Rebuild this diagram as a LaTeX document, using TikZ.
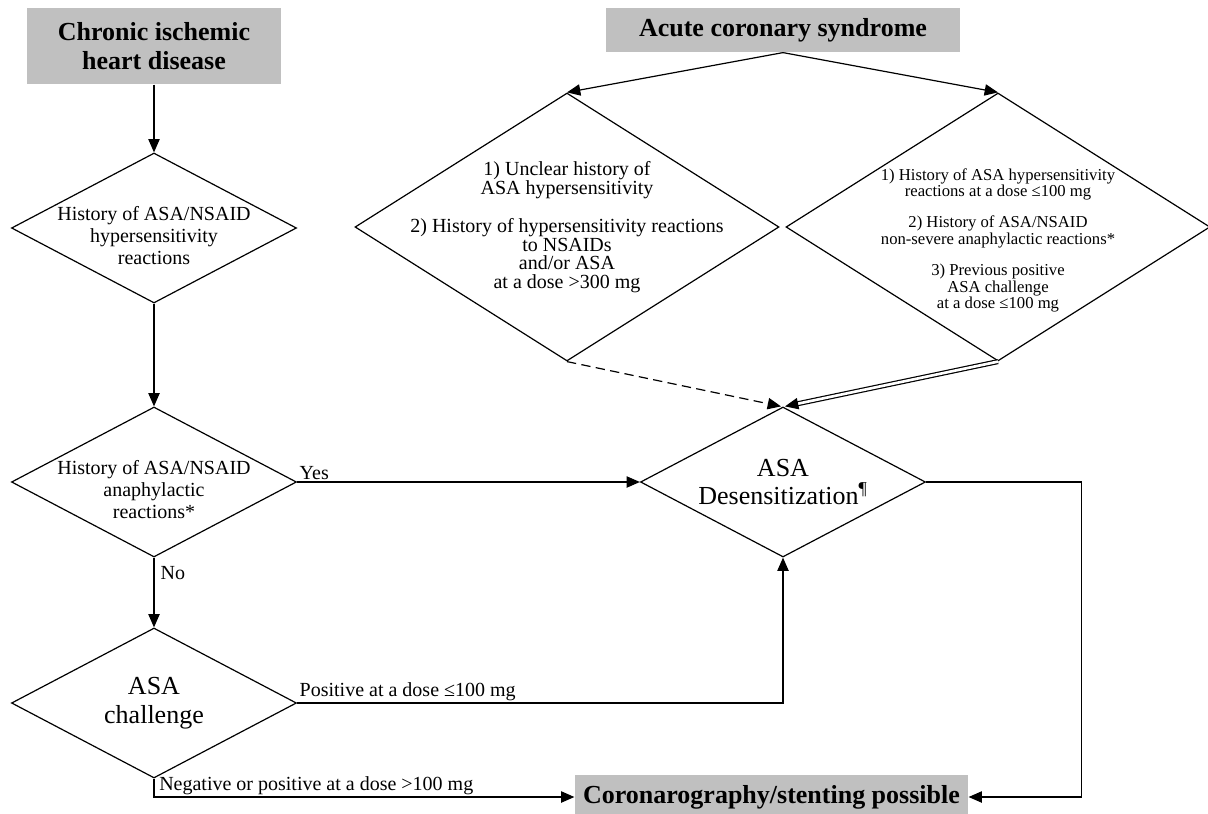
\documentclass[tikz,border=0pt]{standalone}
\usepackage{fontspec}
\setmainfont{Liberation Serif}
\usetikzlibrary{shapes.geometric}
\usetikzlibrary{arrows.meta}
\definecolor{boxgray}{HTML}{C0C0C0}

\begin{document}
\begin{tikzpicture}[x=0.75pt,y=-0.75pt,line width=0.9pt,
  >={Triangle[length=10pt,width=8.5pt]},
  titlebox/.style={fill=boxgray,inner sep=0pt,align=center,font=\fontsize{19.5}{22}\selectfont\bfseries},
  decision/.style={draw,diamond,inner sep=0pt,minimum width=213.75pt,minimum height=112.5pt},
  bigdecision/.style={draw,diamond,inner sep=0pt,minimum width=318pt,minimum height=201pt},
  dtext/.style={align=center,inner sep=0pt,font=\fontsize{15}{16.5}\selectfont},
  asatext/.style={align=center,inner sep=0pt,font=\fontsize{19.5}{21.5}\selectfont},
  acstext/.style={align=center,inner sep=0pt,font=\fontsize{15}{13.9}\selectfont},
  acstextsmall/.style={align=center,inner sep=0pt,font=\fontsize{12.5}{12.4}\selectfont},
  lbl/.style={inner sep=1.5pt,font=\fontsize{15}{16}\selectfont}]
  \useasboundingbox (0,0) rectangle (1208,814);

  \node (chronic) at (154,46)[titlebox,minimum width=190.5pt,minimum height=57pt]{Chronic ischemic\\heart disease};
  \node (acute) at (783,30)[titlebox,minimum width=265.5pt,minimum height=33pt]{Acute coronary syndrome};
  \node (stent) at (771.5,797)[titlebox,minimum width=294.75pt,minimum height=33pt]{Coronarography/stenting possible};

  \node (hist) at (154,228)[decision,label={[dtext,yshift=-6pt]center:{History of ASA/NSAID\\hypersensitivity\\reactions}}]{};
  \node (anaph) at (154,482)[decision,label={[dtext,yshift=-6pt]center:{History of ASA/NSAID\\anaphylactic\\reactions*}}]{};
  \node (chall) at (154,703)[decision,label={[asatext]center:{ASA\\challenge}}]{};
  \node (desens) at (783,482)[decision,label={[asatext]center:{ASA\\Desensitization\textsuperscript{\P}}}]{};

  \node (unclear) at (567,227)[bigdecision,label={[acstext]center:{1) Unclear history of\\ASA hypersensitivity\\[15pt]2) History of hypersensitivity reactions\\to NSAIDs\\and/or ASA\\at a dose >300 mg}}]{};
  \node (known) at (998,227)[bigdecision,label={[acstextsmall,yshift=-10pt]center:{1) History of ASA hypersensitivity\\reactions at a dose ≤100 mg\\[11pt]2) History of ASA/NSAID\\non-severe anaphylactic reactions*\\[11pt]3) Previous positive\\ASA challenge\\at a dose ≤100 mg}}]{};

  \draw[->](chronic)--(hist);
  \draw[->](hist)--(anaph);
  \draw[->](anaph.east)--node[lbl,pos=0,anchor=south west]{Yes}(desens.west);
  \draw[->](anaph.south)--node[lbl,pos=0,anchor=north west,xshift=3pt,yshift=-5pt]{No}(chall.north);
  \draw[->](chall.east)-|node[lbl,pos=0,anchor=south west]{Positive at a dose ≤100 mg}(desens.south);
  \draw[->](chall.south)|-node[lbl,pos=0.5,anchor=south west,xshift=2pt]{Negative or positive at a dose >100 mg}(stent.west);
  \draw[->](desens.east)--++(155,0)|-(stent.east);

  \draw[->](acute.south)--(unclear.north);
  \draw[->](acute.south)--(known.north);
  \draw[->,dash pattern=on 7pt off 4pt](unclear.south)--([xshift=-1.5pt]desens.north);
  \draw[->,double,double distance=2pt](known.south)--([xshift=1.5pt]desens.north);
\end{tikzpicture}
\end{document}
